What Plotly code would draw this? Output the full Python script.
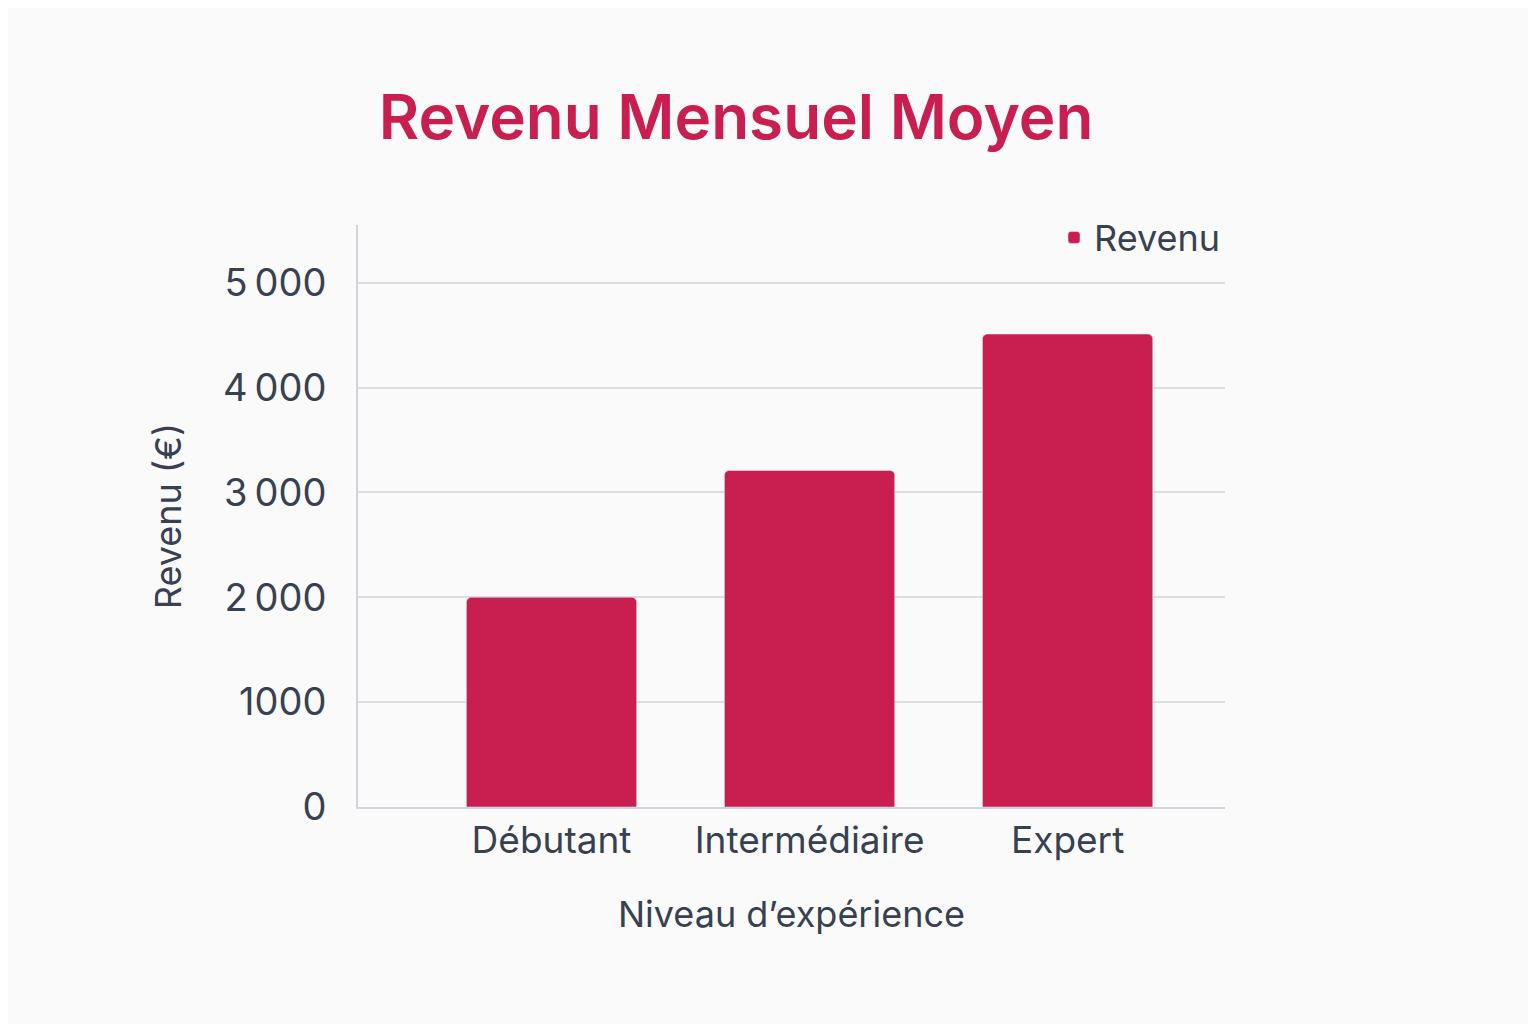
import plotly.graph_objects as go

categories = ["Débutant", "Intermédiaire", "Expert"]
revenus = [2000, 3210, 4510]
tick_vals = [0, 1000, 2000, 3000, 4000, 5000]
tick_text = ["0", "1000", "2\u2009000", "3\u2009000", "4\u2009000", "5\u2009000"]

txt = "#374151"
fig = go.Figure(go.Bar(x=categories, y=revenus, name="Revenu", marker_color="#C81E50",
                       width=0.66, showlegend=True))
fig.update_layout(
    width=1536, height=1024, paper_bgcolor="#FAFAFA", plot_bgcolor="#FAFAFA",
    margin=dict(l=350, r=319, t=217, b=225),
    font=dict(family="Inter", color=txt, size=34),
    barcornerradius=5,
    title=dict(text="Revenu Mensuel Moyen", x=0.474, xanchor="center", y=0.893, yanchor="middle",
               font=dict(size=62, color="#C81E50", family="Inter", weight=600)),
    legend=dict(x=1.0, y=1.03, xanchor="right", yanchor="top", bgcolor="rgba(0,0,0,0)",
                font=dict(size=36, color=txt)),
    xaxis=dict(title=dict(text="Niveau d’expérience", standoff=40, font=dict(size=36)),
               range=[-0.75, 2.61],
               showline=True, linecolor="#D1D5DB", linewidth=2, ticks="", tickfont=dict(size=37)),
    yaxis=dict(title=dict(text="Revenu (€)", standoff=30, font=dict(size=36)),
               range=[0, 5550], tickvals=tick_vals, ticktext=tick_text,
               showline=True, linecolor="#D1D5DB", linewidth=2, gridcolor="#DADDE1", gridwidth=2,
               ticklabelstandoff=22, tickfont=dict(size=38), zeroline=False),
)
fig.write_html("out.html")
